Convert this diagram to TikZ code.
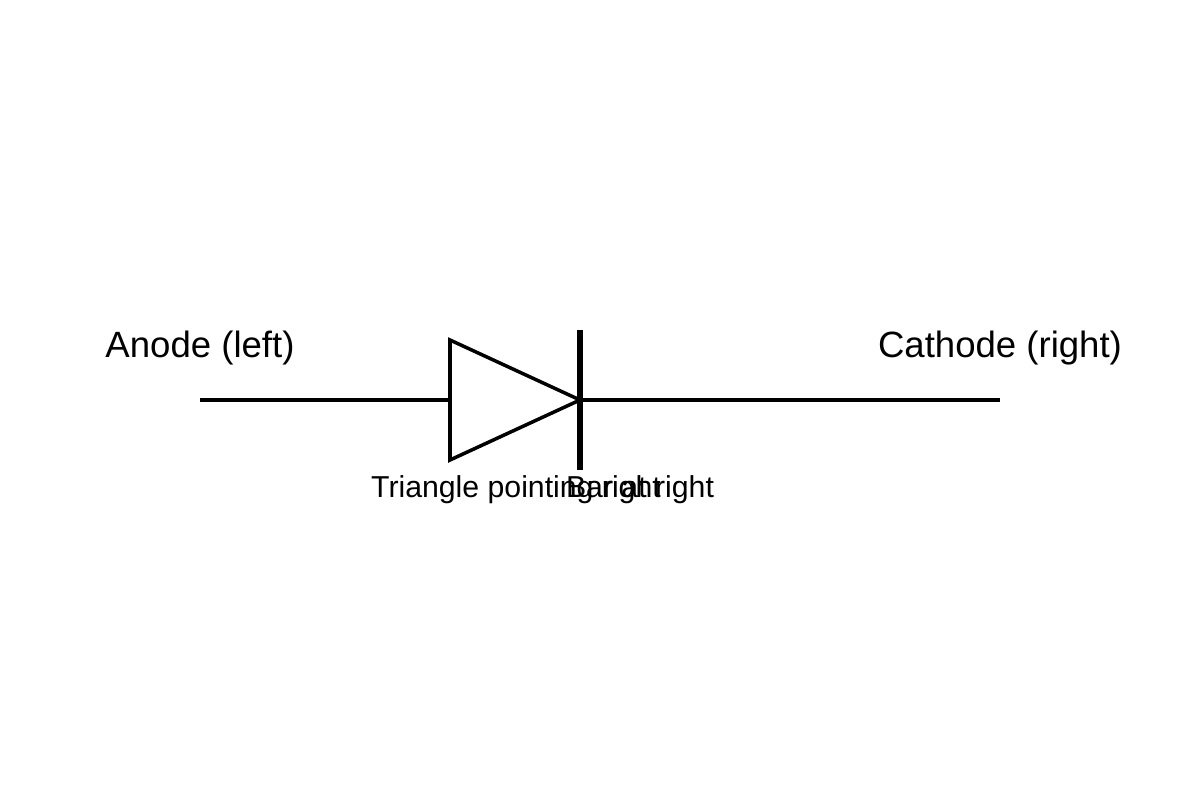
\documentclass[tikz,border=0pt]{standalone}
\usepackage{fontspec}
\setmainfont{Liberation Sans}
\begin{document}
\begin{tikzpicture}[x=0.01cm,y=-0.01cm,
  wire/.style={line width=1pt},
  big/.style={font=\fontsize{10.4pt}{12pt}\selectfont},
  small/.style={font=\fontsize{8.6pt}{10pt}\selectfont}]
\useasboundingbox (0,0) rectangle (1200,800);
\coordinate (a) at (200,400);
\coordinate (ta) at (450,400);
\coordinate (tt) at (450,340);
\coordinate (tb) at (450,460);
\coordinate (tp) at (580,400);
\coordinate (bt) at (580,330);
\coordinate (bb) at (580,470);
\coordinate (k) at (1000,400);
\draw[wire] (a) -- (ta);
\draw[wire,line join=miter] (tt) -- (tp) -- (tb) -- cycle;
\draw[line width=1.5pt] (bt) -- (bb);
\draw[wire] (tp) -- (k);
\node[big] (an) at (200,348) {Anode (left)};
\node[big] (ca) at (1000,348) {Cathode (right)};
\node[small] (tl) at (516,490) {Triangle pointing right};
\node[small] (bl) at (640,490) {Bar at right};
\end{tikzpicture}
\end{document}
